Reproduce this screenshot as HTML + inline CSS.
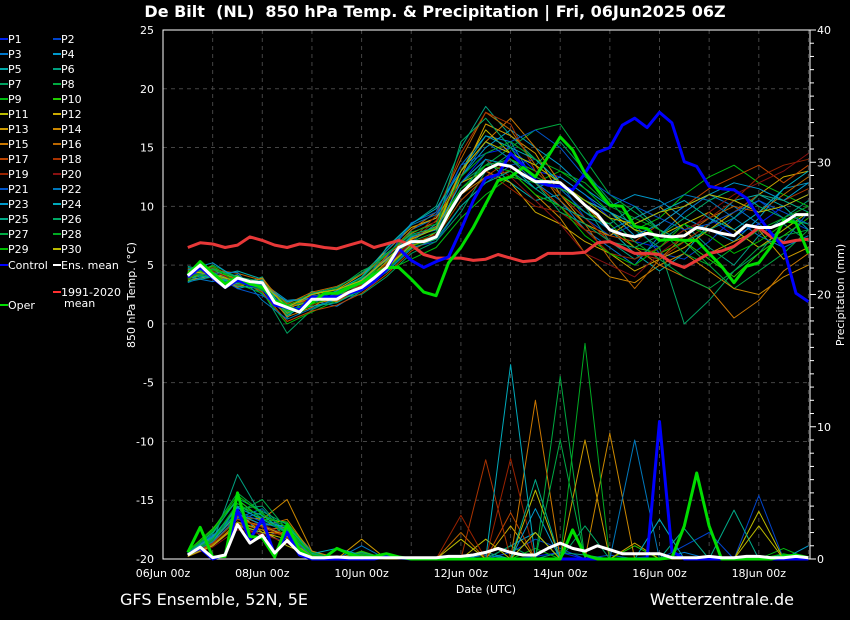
<!DOCTYPE html>
<html><head><meta charset="utf-8">
<style>
html,body{margin:0;padding:0;background:#000;}
#wrap{position:relative;width:850px;height:620px;overflow:hidden;background:#000;font-family:"DejaVu Sans","Liberation Sans",sans-serif;color:#fff;}
svg text{font-family:"DejaVu Sans","Liberation Sans",sans-serif;}
</style></head>
<body>
<div id="wrap">
<svg id="chart" width="850" height="620" xmlns="http://www.w3.org/2000/svg">
<text x="435" y="17" text-anchor="middle" font-size="16" font-weight="bold" fill="#fff">De Bilt&#160;&#160;(NL)&#160;&#160;850 hPa Temp. &amp; Precipitation | Fri, 06Jun2025 06Z</text>
<text x="486" y="593" text-anchor="middle" font-size="11" fill="#fff">Date (UTC)</text>
<text transform="translate(135,295) rotate(-90)" text-anchor="middle" font-size="11" fill="#fff">850 hPa Temp. (°C)</text>
<text transform="translate(844,295) rotate(-90)" text-anchor="middle" font-size="11" fill="#fff">Precipitation (mm)</text>
<text x="120" y="605" font-size="16" fill="#fff">GFS Ensemble, 52N, 5E</text>
<text x="794" y="605" text-anchor="end" font-size="16" fill="#fff">Wetterzentrale.de</text>
<g id="grid"></g><g id="axes"></g><g id="members"></g><g id="mains"></g><g id="legend"></g>
</svg>
</div>
<script>
const tempTicks=[25,20,15,10,5,0,-5,-10,-15,-20];
const precipTicks=[40,30,20,10,0];
const dateLabels=["06Jun 00z","08Jun 00z","10Jun 00z","12Jun 00z","14Jun 00z","16Jun 00z","18Jun 00z"];
const ensMean=[4.1,5.0,4.0,3.1,3.9,3.6,3.5,1.8,1.4,1.0,2.1,2.1,2.1,2.7,3.1,3.9,4.8,6.5,7.0,7.0,7.4,9.4,11.1,12.1,13.1,13.6,13.4,12.7,12.1,12.1,12.0,11.1,10.1,9.3,8.0,7.6,7.4,7.7,7.5,7.4,7.5,8.2,8.0,7.7,7.5,8.4,8.2,8.2,8.6,9.3,9.3];
const climMean=[6.5,6.9,6.8,6.5,6.7,7.4,7.1,6.7,6.5,6.8,6.7,6.5,6.4,6.7,7.0,6.5,6.8,7.1,6.7,5.9,5.6,5.6,5.6,5.4,5.5,5.9,5.6,5.3,5.4,6.0,6.0,6.0,6.1,6.9,7.0,6.5,6.0,6.0,5.9,5.2,4.8,5.4,6.0,6.2,6.6,7.4,8.2,7.4,6.9,7.1,7.2];
const control=[4.0,4.8,3.9,3.1,3.7,3.3,3.1,1.6,1.4,1.2,2.3,2.3,2.3,2.6,2.9,3.6,4.6,6.4,5.4,4.8,5.3,5.7,8.0,10.5,12.4,12.7,14.5,13.5,12.2,11.8,11.7,11.4,12.8,14.6,15.0,16.9,17.5,16.7,18.0,17.1,13.8,13.4,11.7,11.5,11.4,10.7,9.1,7.7,6.5,2.6,1.9];
const oper=[4.2,5.3,4.3,3.4,4.0,3.4,3.1,2.0,1.5,1.0,1.8,2.6,2.6,3.1,3.5,4.2,4.8,4.8,3.8,2.7,2.4,5.2,6.5,8.2,10.2,12.2,12.5,13.3,12.5,14.2,15.9,14.8,12.8,11.4,10.1,10.0,8.3,8.1,7.1,7.2,7.1,7.1,6.0,4.9,3.5,4.9,5.2,6.6,8.8,8.6,6.0];
const meanPrecip=[0.3,0.9,0.1,0.3,2.6,1.2,1.8,0.45,1.4,0.45,0.1,0.1,0.15,0.1,0.1,0.1,0.1,0.1,0.1,0.1,0.1,0.2,0.2,0.3,0.5,0.8,0.5,0.3,0.3,0.8,1.2,0.8,0.6,1.0,0.7,0.4,0.4,0.4,0.4,0.1,0.1,0.1,0.2,0.1,0.1,0.2,0.2,0.1,0.1,0.2,0.1];
const controlPrecip=[0.4,0.8,0,0.3,3.7,1.5,3.0,0.3,2.0,0.3,0,0,0,0,0,0,0.2,0.1,0,0,0,0,0,0,0,0,0,0,0,0,0,0,0,0,0,0,0,0.1,10.4,0.6,0,0,0,0,0,0,0,0,0,0,0];
const operPrecip=[0.5,2.4,0.15,0.2,5.0,1.7,1.6,0.15,2.6,0.7,0.1,0.1,0.8,0.4,0.1,0.2,0.4,0.15,0,0,0,0,0,0,0,0,0,0,0,0,0,2.2,0.3,0,0,0,0,0,0,0.1,2.5,6.5,2.5,0,0,0,0,0,0.2,0.3,0.1];
const memberTemp=[
[4.5,4.2,3.8,3.0,1.5,2.5,2.0,3.5,5.5,7.5,8.0,12.0,14.5,15.0,13.0,12.5,11.0,9.0,7.0,6.5,8.0,9.0,7.5,8.5,10.0,11.0],
[3.8,4.5,3.5,3.2,1.0,1.8,2.5,3.0,4.5,6.5,7.0,10.0,12.0,13.5,14.0,12.0,9.0,7.5,8.5,6.0,5.5,7.0,9.0,10.5,9.0,8.0],
[4.0,3.6,4.2,2.5,0.8,2.0,1.5,2.8,5.0,8.0,9.0,13.5,16.0,15.5,12.0,10.5,8.0,6.5,5.0,7.5,9.5,11.0,10.0,8.5,7.0,9.5],
[4.2,4.8,3.0,3.5,2.0,2.2,2.8,4.0,6.0,7.0,8.5,12.5,15.0,16.5,15.0,13.5,11.5,10.0,11.0,10.5,9.0,8.0,7.0,9.0,11.5,12.0],
[3.6,4.0,4.5,3.8,1.2,1.5,2.0,3.5,4.8,6.8,7.5,11.0,14.0,12.0,10.5,11.0,9.5,8.0,6.0,4.5,6.0,8.5,10.5,11.0,10.0,8.0],
[4.8,4.3,3.2,4.0,0.5,2.8,1.8,3.0,6.5,8.5,10.0,15.0,18.5,16.0,14.0,12.0,10.0,7.0,5.5,7.0,8.5,6.5,5.0,7.5,9.0,10.5],
[4.0,4.6,3.6,2.8,-0.8,1.2,2.2,2.5,4.0,6.0,7.0,9.5,13.0,14.5,13.5,15.5,13.0,10.5,8.0,6.5,0.0,2.0,4.5,6.0,8.5,7.0],
[3.9,5.0,4.0,3.2,1.8,2.5,3.0,4.5,5.5,7.5,8.0,12.0,13.5,15.0,16.5,17.0,14.0,11.0,9.5,8.0,7.0,5.0,3.0,4.5,6.0,8.0],
[4.3,3.9,3.4,2.6,0.0,1.0,2.0,2.8,4.5,5.5,6.5,9.0,11.0,12.5,12.0,13.0,11.5,9.5,8.0,9.0,11.0,12.5,13.5,12.0,11.0,10.0],
[4.6,4.4,3.9,3.4,1.6,2.4,2.6,3.6,5.2,7.2,8.2,11.5,13.0,14.0,13.0,11.0,9.5,8.5,6.5,6.0,7.0,5.5,4.0,6.0,7.5,9.0],
[4.1,4.7,3.3,3.6,1.4,1.9,2.4,3.2,5.0,6.5,7.8,13.0,16.5,14.5,12.5,11.5,10.5,9.5,8.0,7.5,8.5,9.5,8.0,6.5,8.0,9.5],
[3.7,4.1,4.1,2.9,1.1,2.6,2.9,4.2,6.2,8.2,9.0,12.0,13.0,12.0,9.5,8.5,7.0,6.0,4.5,5.5,6.5,8.0,9.5,11.0,12.5,13.0],
[4.4,4.9,3.7,3.3,0.9,1.7,2.1,3.3,4.7,6.7,7.2,12.5,17.0,16.0,14.5,11.0,8.5,7.5,9.0,10.0,8.0,6.0,7.0,8.0,5.5,6.5],
[4.0,4.3,3.1,3.9,1.3,2.3,1.9,3.1,5.3,7.3,8.3,11.0,12.5,13.0,11.0,9.0,6.0,4.0,3.5,5.0,6.0,4.5,3.0,2.5,4.0,5.0],
[4.7,4.0,3.5,3.1,0.6,1.4,2.7,3.7,5.7,7.7,8.7,13.0,15.5,17.5,15.0,12.0,10.0,8.0,6.5,5.0,4.0,3.0,0.5,2.0,4.5,6.0],
[3.8,4.6,4.3,3.7,1.7,2.7,3.2,4.2,5.8,8.0,9.5,14.0,18.0,16.5,13.5,10.5,8.5,5.5,3.0,5.5,7.5,9.0,10.0,9.5,11.0,12.5],
[4.2,4.4,3.8,2.7,0.2,1.1,1.6,2.6,4.2,6.2,7.4,10.5,12.5,14.0,12.0,10.0,8.0,7.5,7.0,8.5,10.0,11.5,12.5,13.5,12.0,13.5],
[4.5,4.1,3.3,3.5,1.4,2.1,2.3,3.3,5.1,7.1,9.2,14.5,18.0,17.0,13.0,11.0,9.0,7.0,6.0,5.5,7.0,8.5,9.5,11.0,10.5,11.5],
[3.9,4.8,3.9,3.0,1.0,1.6,2.5,3.4,4.9,6.9,7.6,11.0,13.0,11.5,10.0,9.5,8.0,6.0,5.5,6.5,8.0,9.0,10.5,12.5,13.5,14.0],
[4.1,4.5,3.6,3.4,1.5,2.4,2.0,3.0,5.0,7.0,8.8,12.0,14.0,12.5,10.5,8.5,6.0,5.0,4.0,6.0,7.5,9.5,11.0,12.0,13.0,14.5],
[4.3,4.2,3.0,2.4,1.2,1.8,2.6,3.6,5.6,8.6,9.5,13.5,14.5,15.5,16.5,15.0,12.5,11.0,10.0,9.0,8.0,8.5,9.5,10.5,9.5,8.5],
[3.5,4.3,4.4,2.0,0.4,1.3,2.2,3.2,6.2,8.4,9.3,12.5,15.5,14.0,12.0,11.5,9.5,8.0,9.0,10.0,11.0,10.5,9.0,7.5,6.5,7.5],
[4.6,5.2,3.8,3.3,1.9,2.2,2.4,3.8,5.4,7.4,8.0,12.0,14.0,13.5,11.5,12.5,11.0,9.5,7.5,8.5,10.0,11.0,12.0,11.5,10.5,12.0],
[4.0,4.0,3.4,3.7,0.7,2.0,2.8,4.0,6.4,8.5,9.8,13.0,16.0,15.0,14.0,12.0,10.5,9.5,8.5,9.5,10.5,9.0,8.0,9.5,11.5,13.0],
[4.9,4.4,3.2,3.0,1.0,1.5,1.8,2.9,4.4,6.4,7.2,10.0,12.0,13.0,11.5,10.0,9.0,8.5,10.0,8.0,7.0,8.0,9.0,11.0,10.5,9.5],
[3.6,4.7,4.0,3.6,1.3,2.6,3.1,4.3,6.0,7.6,8.2,15.5,17.5,15.0,12.0,9.5,8.5,7.0,6.5,7.5,9.0,10.5,11.5,10.0,9.0,8.5],
[4.2,4.1,3.7,3.2,1.6,1.9,2.4,3.5,5.5,7.0,7.8,11.5,13.5,14.0,12.5,11.5,10.5,9.0,7.0,5.5,4.0,3.0,4.5,6.5,7.5,8.0],
[4.4,4.6,3.9,3.1,0.8,2.1,2.7,3.9,5.9,7.8,8.5,12.5,14.5,15.5,14.0,13.0,12.0,10.0,9.0,8.0,6.0,5.0,6.5,8.0,9.0,10.0],
[3.8,4.9,3.5,2.9,1.1,1.7,2.3,3.1,4.6,6.6,7.3,11.0,13.5,13.0,11.0,10.0,7.5,6.0,5.0,6.5,8.5,7.5,6.0,7.0,8.5,9.5],
[4.5,4.2,3.6,3.5,1.4,2.5,2.9,3.7,5.5,7.2,8.1,13.0,15.5,14.5,13.5,12.0,10.5,9.0,8.5,9.5,10.0,11.0,10.5,9.5,10.0,11.0]];
const memberPrecip=[
[0.5,1.5,3.5,2.5,1.8,0.3,0,0.5,0,0,0,0,0,0,0.2,0.5,0,0,0,0,0,0,0,0,0,0],
[0.3,1.0,2.5,2.0,1.2,0.5,0.1,0.3,0,0,0,0,0,0.5,1.5,0.8,0,0.3,0,0,1.0,2.0,0,4.8,0,0.2],
[0.4,1.8,3.0,3.5,1.5,0.2,0,1.0,0,0,0,0,0.3,0,0,0,0,0,0,0,0.5,0,0,0,0,0],
[0.2,1.2,4.0,1.5,2.5,0.4,0,0.2,0,0,0,0,0,1.0,2.0,0,0,0,0,0,0,0,0,0,0,0],
[0.6,2.0,4.5,3.0,2.0,0.3,0.2,0,0,0,0,0,0.5,0,0,0,0,0,0,0,0,0,0,0,0.3,0],
[0.3,1.3,6.4,3.2,2.7,0.6,0,0.5,0,0,0,0,0,0,0,0.5,0.3,0,0,0,0,0,0,0,0,0],
[0.5,1.6,3.8,4.0,1.9,0.2,0,0.3,0,0,0,0,0,1.0,0,0,0,0,0,0,0,0,0,0,0,0],
[0.4,2.2,5.0,3.5,1.5,0.3,0,0.2,0,0,0,0,0,0,0,13.8,0,0,0,0,0,0,0,0,0,0],
[0.3,1.5,4.2,2.8,2.2,0.5,0,0.4,0,0,0,0,0,0,0.8,0,0,0,0,0,0,0,0,0,0.8,0],
[0.6,2.3,4.5,3.0,2.8,0.4,0,0.6,0,0,0,0,0,0,0,0,0,0,1.0,0,0,0,0,0,0,0],
[0.2,1.0,2.8,2.2,1.0,0.2,0,0.3,0,0,0,0,1.5,0,5.2,0,0,0,0,0,0,0,0,3.6,0,0],
[0.3,1.2,3.0,2.5,1.7,0.3,0,0.2,0,0,0,0,0,2.5,0,0,0,0,1.2,0,0,0,0,0,0,0],
[0.4,1.4,3.5,2.0,2.0,0.5,0,1.5,0,0,0,0,0,0,0,0,9.0,0,0,0,0,0,0,0,0,0],
[0.5,1.6,3.2,3.0,4.5,0.6,0.1,0.5,0,0,0,0,0,0,0,0,0,9.5,0,0,0,0,0,0,0,0],
[0.4,1.3,3.0,2.5,3.0,0.4,0,0.4,0,0,0,0,0,0,12.0,0,0,0,0,0,0,0,0,0,0,0],
[0.3,1.1,2.7,2.2,2.4,0.2,0,0.3,0,0,0,2.0,0,0,0,0,0,0,0,0,0,0,0,0,0,0],
[0.2,1.0,2.5,1.8,2.0,0.3,0,0.2,0,0,0,0,0,3.5,0,0,0,0,0,0,0,0,0,0,0,0],
[0.3,1.2,3.0,2.4,1.6,0.4,0,0.3,0,0,0,0,7.5,0,0,0,0,0,0,0,0,0,0,0,0,0],
[0.4,1.4,3.3,2.6,1.8,0.3,0,0.2,0,0,0,3.3,0,7.6,0,0,0,0,0,0,0,0,0,0,0,0],
[0.2,0.9,2.2,1.9,1.2,0.2,0,0.1,0,0,0,0,0,0,0,0,0,0,0,0,0,0,0,0,0,0],
[0.4,1.5,3.6,2.8,2.1,0.4,0,0.3,0,0,0,0,0,0,0,0,0,0,0,0,0,0,0,0,0,0],
[0.3,1.3,3.1,3.8,1.8,0.3,0,0.4,0,0,0,0,0,0,0,0,0,0,9.0,0,0,0,0,0,0,0],
[0.5,1.7,3.9,3.0,2.3,0.5,0,0.2,0,0,0,0,0,0,3.8,0,0,0,0,0,0,0,0,0,0,1.0],
[0.3,1.4,3.4,2.6,2.5,0.4,0.8,0.3,0,0,0,0,0,14.7,0,0,0,0,0,3.0,0,0,0,0,0,0],
[0.4,1.6,4.0,3.3,2.0,0.3,0,0.3,0,0,0,0,0,0,6.0,0,0,0,0,0,2.3,0,3.7,0,0,0],
[0.5,1.9,4.6,3.6,2.6,0.4,0,0.5,0,0,0,0,0,0,0,0,2.5,0,0,0,0,0,0,0,0,0],
[0.4,1.5,3.5,4.5,2.2,0.3,0,0.2,0,0,0,0,0,0,0,9.0,0,0,0,0,0,0,0,0,0,0],
[0.3,1.4,4.2,3.1,1.9,0.5,0,0.4,0,0,0,0,0,0,0,0,16.3,0,0,0,0,0,0,0,0,0],
[0.6,2.1,4.8,3.4,2.4,0.3,0,0.3,0,0,0,0,0,0,0,0,0,0,0,0,0,0,0,0,0.4,0],
[0.2,1.0,2.6,2.0,1.5,0.2,0,0.2,0,0,0,1.5,0,0,2.0,0,0,0,0,0,0,0,0,2.5,0,0]];
const memberColors=["#0022ee","#0044cc","#0077cc","#0099cc","#00aaaa","#00a080","#00a060","#00aa40","#00bb10","#22cc00","#bbbb00","#ccaa00","#cc9900","#cc8800","#cc7700","#bb6600","#bb4400","#aa3300","#992200","#881111","#0055cc","#0077bb","#0099cc","#00aabb","#00aa88","#00aa66","#00aa44","#00aa22","#00bb00","#bbbb00"];

const NS="http://www.w3.org/2000/svg";
const X0=163,X1=810,Y0=30,Y1=559;
const t0=0.5; // days since 06Jun 00z for first plotted point
function xDay(d){return X0+d*49.65;}
function xStep(i,stepH){return xDay(t0+i*stepH/24);}
function yT(t){return Y1-(t+20)*(Y1-Y0)/45;}
function yP(p){return Y1-p*(Y1-Y0)/40;}
function mk(tag,attrs,parent){const e=document.createElementNS(NS,tag);for(const k in attrs)e.setAttribute(k,attrs[k]);parent.appendChild(e);return e;}
function poly(vals,stepH,yf,color,w,parent){
  const pts=vals.map((v,i)=>xStep(i,stepH).toFixed(1)+","+yf(v).toFixed(1)).join(" ");
  return mk("polyline",{points:pts,fill:"none",stroke:color,"stroke-width":w,"stroke-linejoin":"round"},parent);
}
const grid=document.getElementById("grid"),axes=document.getElementById("axes"),mem=document.getElementById("members"),mains=document.getElementById("mains"),leg=document.getElementById("legend");
for(const t of tempTicks){
  if(t!==25&&t!==-20){const g=mk("line",{x1:X0,x2:X1,y1:yT(t),y2:yT(t),stroke:"#444","stroke-dasharray":"4,4"},grid);
  
  }
  const tx=mk("text",{x:154,y:yT(t)+4,"text-anchor":"end","font-size":11,fill:"#fff"},axes);tx.textContent=String(t);
  
  
}
for(let d=1;d<=13;d++){
  const g=mk("line",{x1:xDay(d),x2:xDay(d),y1:Y0,y2:Y1,stroke:"#444","stroke-dasharray":"4,4"},grid);
  
  
}
dateLabels.forEach((s,i)=>{
  const tx=mk("text",{x:xDay(i*2),y:577,"text-anchor":"middle","font-size":11,fill:"#fff"},axes);tx.textContent=s;
  
  
});
for(const p of precipTicks){
  const tx=mk("text",{x:817,y:yP(p)+4,"font-size":11,fill:"#fff"},axes);tx.textContent=String(p);
  
  
}
for(let p=0;p<=40;p++){
  const l=mk("line",{x1:X1,x2:X1+(p%10===0?6:4),y1:yP(p),y2:yP(p),stroke:"#fff"},axes);
  
  
}
const frame=mk("rect",{x:X0,y:Y0,width:X1-X0,height:Y1-Y0,fill:"none",stroke:"#fff","stroke-width":1},axes);


memberTemp.forEach((arr,i)=>{
  const l=poly(arr,12,yT,memberColors[i],1,mem);
  
  
});
memberPrecip.forEach((arr,i)=>{
  const l=poly(arr,12,yP,memberColors[i],1,mem);
  
  
});
let l;
l=poly(climMean,6,yT,"#e83838",3,mains);


l=poly(control,6,yT,"#0000ff",3,mains);


l=poly(controlPrecip,6,yP,"#0000ff",3,mains);


l=poly(oper,6,yT,"#00dd00",3,mains);


l=poly(operPrecip,6,yP,"#00dd00",3,mains);


l=poly(ensMean,6,yT,"#ffffff",3,mains);


l=poly(meanPrecip,6,yP,"#ffffff",3,mains);


function legItem(x,y,color,label,name){
  const g=mk("g",{},leg);
  
  
  mk("line",{x1:x,x2:x+8,y1:y,y2:y,stroke:color,"stroke-width":2},g);
  const t=mk("text",{x:x+8,y:y+4,"font-size":11,fill:"#fff"},g);t.textContent=label;
  return t;
}
for(let i=0;i<30;i++){
  const col=i%2,row=Math.floor(i/2);
  legItem(col?53:0,39+row*15,memberColors[i],"P"+(i+1),"legend-entry");
}
legItem(0,265,"#0000ff","Control","legend-control");
legItem(53,265,"#ffffff","Ens. mean","legend-ens-mean");
legItem(53,292,"#ff3030","1991-2020","legend-climate-mean");
const cm2=mk("text",{x:64,y:307,"font-size":11,fill:"#fff"},leg);cm2.textContent="mean";


legItem(0,305,"#00dd00","Oper","legend-oper");
</script>
</body></html>
